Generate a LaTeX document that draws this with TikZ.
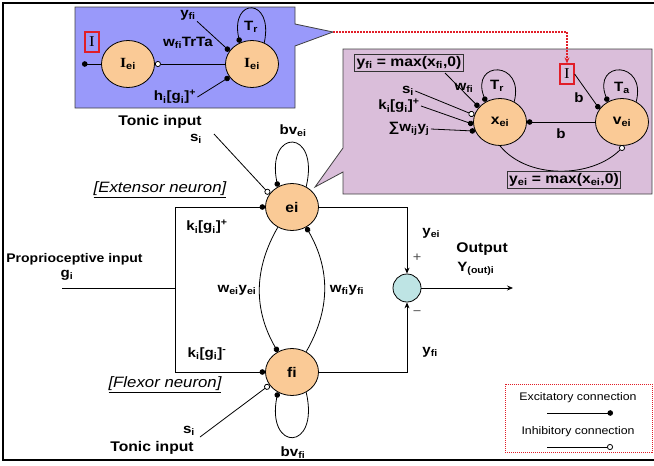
\documentclass[tikz,border=0pt]{standalone}
\usepackage{fontspec}
\setmainfont{Liberation Sans}[FakeStretch=1.12]
\newfontfamily\serifI{Liberation Serif}[FakeStretch=1.12]
\usetikzlibrary{shapes.geometric,arrows.meta}

\definecolor{cellfill}{RGB}{250,202,150}
\definecolor{bluebox}{RGB}{153,153,250}
\definecolor{lilac}{RGB}{218,190,218}
\definecolor{sumfill}{RGB}{190,228,228}
\definecolor{redline}{RGB}{225,30,40}

\newcommand\lsub[1]{\textsubscript{#1}}
\newcommand\lsup[1]{\textsuperscript{#1}}

\begin{document}
\begin{tikzpicture}[x=1pt,y=-1pt,line width=0.8pt,
  neuron/.style={ellipse,draw,fill=cellfill,minimum width=53,minimum height=47,inner sep=0pt,
    font=\bfseries\fontsize{14}{16}\selectfont},
  lbl/.style={font=\bfseries\fontsize{13.5}{15}\selectfont,inner sep=1pt},
  big/.style={font=\bfseries\fontsize{14}{16}\selectfont,inner sep=1pt},
  ital/.style={font=\itshape\fontsize{15}{17}\selectfont,inner sep=1pt},
  leg/.style={font=\fontsize{11}{13}\selectfont,inner sep=1pt},
  eqbox/.style={draw=black!80,fill=lilac,inner sep=2pt,font=\bfseries\fontsize{14}{16}\selectfont},
  redbox/.style={draw=redline,line width=1.2pt,minimum width=14,minimum height=20,inner sep=0pt,
    font=\serifI\fontsize{15}{16}\selectfont},
  exc/.style={-{Circle[length=5.5pt]}},
  exs/.style={{Circle[length=5.5pt]}-},
  inh/.style={-{Circle[fill=white,length=6pt]}},
  tip/.style={-{Stealth[length=6pt,width=5pt]}}]
\useasboundingbox (0,0) rectangle (654,466);

% frame
\draw[line width=2pt] (654,3) -- (3,3) -- (3,460) -- (654,460);

% insets
\draw[fill=bluebox,draw=black!75] (75,7) -- (295,7) -- (295,24) -- (333,32) -- (295,46) -- (295,108) -- (75,108) -- cycle;
\draw[fill=lilac,draw=black!75] (343,49) -- (652,49) -- (652,194) -- (343,194) -- (343,172) -- (315,187) -- (343,148) -- cycle;

% blue inset
\node[redbox] (ia) at (92,42) {I};
\node[neuron] (ca) at (128,64) {{\serifI I}\lsub{ei}};
\node[neuron] (cb) at (252,64) {{\serifI I}\lsub{ei}};
\coordinate (ia0) at (82,64);
\draw[exs] (ia0) -- (ca);
\draw[inh] (cb) -- (ca);
\node[lbl] (tyfi) at (188,15) {y\lsub{fi}};
\draw[exc] (tyfi.south east) -- (cb.150);
\node[lbl] (wtt) at (188,43) {w\lsub{fi}TrTa};
\node[lbl] (hg) at (175,97) {h\lsub{i}[g\lsub{i}]\lsup{+}};
\draw[exc] (hg.east) -- (cb.210);
\draw[exs] (cb.120) .. controls (230,-3) and (274,-3) .. (cb.60);
\node[lbl] (tra) at (251,27) {T\lsub{r}};

% purple inset
\node[eqbox] (yfi) at (409,63) {y\lsub{fi} = max(x\lsub{fi},0)};
\node[neuron] (xei) at (500,122) {x\lsub{ei}};
\node[neuron] (vei) at (622,122) {v\lsub{ei}};
\node[redbox] (ib) at (567,74) {I};
\draw[exs] (xei) -- (vei);
\node[lbl] (bx) at (561,134) {b};
\draw[exc] (ib.east) -- (vei.150);
\node[lbl] (bi) at (579,98) {b};
\draw[inh] (xei.270) .. controls (528,180) and (592,178) .. (vei.275);
\node[eqbox] (yei) at (564,180) {y\lsub{ei} = max(x\lsub{ei},0)};
\draw[exs] (xei.125) .. controls (470,60) and (525,60) .. (xei.55);
\node[lbl] (trb) at (497,86) {T\lsub{r}};
\draw[exs] (vei.125) .. controls (592,60) and (647,60) .. (vei.55);
\node[lbl] (ta) at (622,88) {T\lsub{a}};
\node[lbl] (si) at (408,91) {s\lsub{i}};
\draw[inh] (si.east) -- (xei.165);
\node[lbl] (kg) at (399,106) {k\lsub{i}[g\lsub{i}]\lsup{+}};
\draw[exc] (kg.east) -- (xei.185);
\node[lbl] (sw) at (409,129) {∑w\lsub{ij}y\lsub{j}};
\draw[exc] (sw.east) -- (xei.200);
\coordinate (wf0) at (445,73);
\draw[exc] (wf0) -- (xei.145);
\node[lbl] (wf) at (464,88) {w\lsub{fi}};

% link between insets
\coordinate (ptr) at (333,32);
\draw[redline,line width=1.5pt,dash pattern=on 1.5pt off 1.5pt,tip] (ptr) -| (ib.north);

% main circuit
\node[neuron] (ei) at (292,207) {ei};
\node[neuron] (fi) at (292,372) {fi};
\node[draw,circle,fill=sumfill,minimum size=28,inner sep=0pt] (sum) at (407,288) {};
\coordinate (pin) at (62,288);
\coordinate (split) at (175,288);
\draw (pin) -- (split);
\draw[exc] (split) |- (ei);
\draw[exc] (split) |- (fi);
\node[lbl,anchor=west,font=\bfseries\fontsize{12.5}{14}\selectfont] (prop) at (5,259) {Proprioceptive input};
\node[lbl] (gi) at (67,275) {g\lsub{i}};
\node[lbl] (kp) at (207,227) {k\lsub{i}[g\lsub{i}]\lsup{+}};
\node[lbl] (km) at (207,354) {k\lsub{i}[g\lsub{i}]\lsup{-}};

\draw[exc] (ei.235) to[bend right=30] (fi.125);
\draw[exc] (fi.55) to[bend right=30] (ei.305);
\node[lbl] (wey) at (237,290) {w\lsub{ei}y\lsub{ei}};
\node[lbl] (wfy) at (347,290) {w\lsub{fi}y\lsub{fi}};

\draw[exs] (ei.125) .. controls (266,128) and (320,128) .. (ei.55);
\node[lbl] (bve) at (293,131) {bv\lsub{ei}};
\draw[exs] (fi.235) .. controls (266,452) and (320,452) .. (fi.305);
\node[lbl] (bvf) at (293,453) {bv\lsub{fi}};

\node[big] (toe) at (160,122) {Tonic input};
\node[lbl] (sie) at (196,139) {s\lsub{i}};
\coordinate (se0) at (214,134);
\draw[inh] (se0) -- (ei.150);
\node[lbl] (sif) at (189,431) {s\lsub{i}};
\coordinate (sf0) at (200,437);
\draw[inh] (sf0) -- (fi.210);
\node[big] (tof) at (152,448) {Tonic input};

\node[ital] (ext) at (160,190) {\underline{[Extensor neuron]}};
\node[ital] (flx) at (165,385) {\underline{[Flexor neuron]}};

% output stage
\draw[tip] (ei) -| (sum);
\draw[tip] (fi) -| (sum);
\coordinate (out) at (513,288);
\draw[tip] (sum) -- (out);
\node[lbl,anchor=west] (ye) at (421,233) {y\lsub{ei}};
\node[leg,text=black!70,font=\fontsize{13}{14}\selectfont] (plus) at (417,258) {+};
\node[leg,text=black!70,font=\fontsize{13}{14}\selectfont] (minus) at (417,313) {−};
\node[lbl,anchor=west] (yf) at (421,352) {y\lsub{fi}};
\node[big,anchor=west] (outl) at (455,249) {Output};
\node[lbl,anchor=west] (yout) at (456,269) {Y\lsub{(out)i}};

% legend
\draw[redline,dash pattern=on 1pt off 1pt] (505,384) rectangle (652,452);
\node[leg] (lex) at (578,398) {Excitatory connection};
\coordinate (e0) at (547,413);
\coordinate (e1) at (613,413);
\draw[exc] (e0) -- (e1);
\node[leg] (lin) at (578,432) {Inhibitory connection};
\coordinate (i0) at (547,447);
\coordinate (i1) at (613,447);
\draw[inh] (i0) -- (i1);
\end{tikzpicture}
\end{document}
